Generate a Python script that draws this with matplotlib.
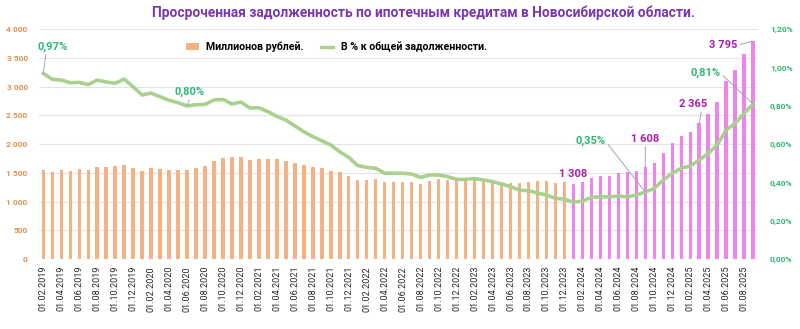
import matplotlib.pyplot as plt
import matplotlib.ticker as mticker
from matplotlib.patches import Patch
from matplotlib.lines import Line2D

plt.rcParams["font.family"] = ["Roboto", "DejaVu Sans"]

# -------------------------------------------------------------------
# DATA: monthly, 01.02.2019 .. 01.09.2025
# -------------------------------------------------------------------
months = [f"01.{m:02d}.{y}" for y in range(2019, 2026) for m in range(1, 13)]
months = months[1:months.index("01.09.2025") + 1]

# overdue mortgage debt, million rubles
overdue_mln = [
    1550, 1520, 1548, 1540, 1563, 1557, 1602, 1602, 1625, 1630,
    1585, 1533, 1580, 1570, 1557, 1557, 1550, 1590, 1625, 1700,
    1765, 1780, 1773, 1720, 1745, 1745, 1741, 1701, 1666, 1631,
    1608, 1579, 1538, 1515, 1445, 1376, 1370, 1393, 1347, 1341,
    1341, 1341, 1310, 1358, 1387, 1376, 1387, 1353, 1387, 1364,
    1341, 1347, 1329, 1330, 1335, 1350, 1355, 1330, 1335, 1308,
    1335, 1410, 1440, 1445, 1497, 1509, 1538, 1608, 1666, 1840,
    2014, 2147, 2205, 2365, 2525, 2728, 3105, 3291, 3564, 3795,
]

# share of total mortgage debt, %
share_pct = [
    0.97, 0.939, 0.935, 0.921, 0.923, 0.911, 0.935, 0.925, 0.918, 0.94,
    0.90, 0.857, 0.867, 0.848, 0.829, 0.817, 0.80, 0.806, 0.808, 0.831,
    0.834, 0.81, 0.82, 0.789, 0.79, 0.77, 0.745, 0.726, 0.695, 0.665,
    0.639, 0.618, 0.596, 0.56, 0.531, 0.488, 0.479, 0.474, 0.448, 0.448,
    0.448, 0.444, 0.426, 0.439, 0.439, 0.43, 0.416, 0.416, 0.42, 0.413,
    0.404, 0.392, 0.378, 0.36, 0.356, 0.345, 0.334, 0.317, 0.313, 0.296,
    0.303, 0.322, 0.325, 0.325, 0.329, 0.325, 0.334, 0.35, 0.369, 0.413,
    0.448, 0.474, 0.486, 0.517, 0.552, 0.596, 0.674, 0.709, 0.761, 0.81,
]

first_2024 = months.index("01.01.2024")

ORANGE = "#F4B183"
MAGENTA = "#EE82EE"
GREEN_LINE = "#A9D18E"
GREEN_TXT = "#2EB872"
MAGENTA_TXT = "#B01CB0"
TITLE_CLR = "#7B35B0"
LEADER = "#A6A6A6"

# -------------------------------------------------------------------
# PLOT
# -------------------------------------------------------------------
fig = plt.figure(figsize=(8, 3.29), dpi=100)
ax = fig.add_axes([0.0485, 0.2128, 0.8985, 0.698])

x = list(range(len(months)))
bar_colors = [ORANGE if i < first_2024 else MAGENTA for i in x]
ax.bar(x, overdue_mln, width=0.38, color=bar_colors, zorder=2)

ax.set_xlim(-0.5, len(months) - 0.5)
ax.set_ylim(0, 4000)
ax.yaxis.set_major_locator(mticker.MultipleLocator(500))
ax.yaxis.set_major_formatter(
    mticker.FuncFormatter(lambda v, p: f"{int(v):,}".replace(",", " ")))
ax.grid(axis="y", color="#E3E3E3", linewidth=0.8, zorder=0)
ax.set_axisbelow(True)
for s in ax.spines.values():
    s.set_visible(False)
ax.tick_params(axis="y", length=0, labelsize=6, labelcolor="#E0904F", pad=8)
for t in ax.get_yticklabels():
    t.set_fontweight("bold")

ax.set_xticks(x[::2])
ax.set_xticklabels(months[::2], rotation=90, fontsize=6.5, color="#262626")
ax.tick_params(axis="x", length=0, pad=5)

ax2 = ax.twinx()
ax2.plot(x, share_pct, color=GREEN_LINE, linewidth=2.6, zorder=3)
ax2.set_ylim(0, 1.2)
ax2.yaxis.set_major_locator(mticker.MultipleLocator(0.2))
ax2.yaxis.set_major_formatter(
    mticker.FuncFormatter(lambda v, p: f"{v:.2f}%".replace(".", ",")))
for s in ax2.spines.values():
    s.set_visible(False)
ax2.tick_params(axis="y", length=0, labelsize=6, labelcolor=GREEN_TXT, pad=9)
for t in ax2.get_yticklabels():
    t.set_fontweight("bold")

# value labels on the line
def pct_label(i, dx, dy, rel=(0.5, 0.5), leader=True):
    props = dict(arrowstyle="-", color=LEADER, lw=0.7, relpos=rel,
                 shrinkA=0, shrinkB=0) if leader else None
    ax2.annotate(f"{share_pct[i]:.2f}%".replace(".", ","), xy=(i, share_pct[i]),
                 xytext=(dx, dy), textcoords="offset pixels",
                 ha="center", va="center", fontsize=8, fontweight="bold",
                 color=GREEN_TXT, arrowprops=props, zorder=5)

# value labels on the bars
def mln_label(i, dx, dy, rel=(0.5, 0.5), leader=True):
    props = dict(arrowstyle="-", color=LEADER, lw=0.7, relpos=rel,
                 shrinkA=0, shrinkB=0) if leader else None
    ax2.annotate(f"{overdue_mln[i]:,}".replace(",", " "),
                 xy=(i, overdue_mln[i] * 1.2 / 4000),
                 xytext=(dx, dy), textcoords="offset pixels",
                 ha="center", va="center", fontsize=8, fontweight="bold",
                 color=MAGENTA_TXT, arrowprops=props, zorder=5)

pct_label(0, 9, 27, rel=(0.3, 0.0))
pct_label(months.index("01.06.2020"), 3, 14, rel=(0.5, 0.0))
pct_label(months.index("01.09.2024"), -55, 51, rel=(1.0, 0.5))
pct_label(len(months) - 1, -48, 31, rel=(1.0, 0.5))

mln_label(first_2024, 0, 10, leader=False)
mln_label(months.index("01.09.2024"), 0, 28, rel=(0.5, 0.0))
mln_label(months.index("01.03.2025"), -6, 19, rel=(0.8, 0.0))
mln_label(len(months) - 1, -30, -4, rel=(1.0, 0.5))

# legend
handles = [
    Patch(facecolor=ORANGE, edgecolor="none"),
    Line2D([0], [0], color=GREEN_LINE, linewidth=2.4),
]
leg = ax.legend(handles, ["Миллионов рублей.", "В % к общей задолженности."],
                loc="center", bbox_to_anchor=(0.414, 0.923), ncol=2,
                frameon=False, fontsize=7.6, handlelength=1.2,
                handleheight=0.6, columnspacing=1.6, handletextpad=0.7)
for t in leg.get_texts():
    t.set_fontweight("bold")

fig.text(0.529, 0.962,
         "Просроченная задолженность по ипотечным кредитам в Новосибирской области.",
         ha="center", va="center", fontsize=9.95, fontweight="bold",
         color=TITLE_CLR)

plt.savefig("out.png", dpi=100)
